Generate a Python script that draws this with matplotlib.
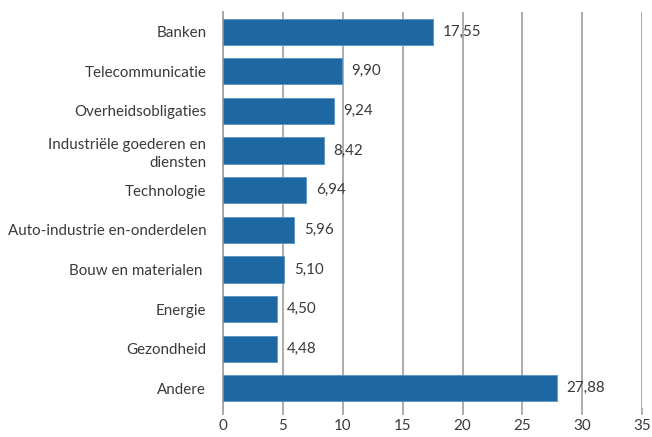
import matplotlib.pyplot as plt

# --- DATA ---
categories = ["Banken", "Telecommunicatie", "Overheidsobligaties",
              "Industriële goederen en\ndiensten", "Technologie",
              "Auto-industrie en-onderdelen", "Bouw en materialen ",
              "Energie", "Gezondheid", "Andere"]
values = [17.55, 9.90, 9.24, 8.42, 6.94, 5.96, 5.10, 4.50, 4.48, 27.88]
xticks = [0, 5, 10, 15, 20, 25, 30, 35]

bar_color = "#1d68a3"
text_color = "#3a3a3a"
grid_color = "#a6a6a6"

plt.rcParams['font.family'] = ['Lato', 'DejaVu Sans']

fig = plt.figure(figsize=(6.52, 4.37), dpi=100)
ax = fig.add_axes([0.342, 0.066, 0.643, 0.907])

pos = list(range(len(categories)))
ax.barh(pos, values, height=0.66, color=bar_color, edgecolor="#5b93c2",
        linewidth=0.6, zorder=3)

for p, v in zip(pos, values):
    ax.annotate(f"{v:.2f}".replace(".", ","), (v, p), xytext=(7, 0),
                textcoords="offset points", va="center", ha="left",
                fontsize=10.9, color=text_color)

ax.set_ylim(len(categories) - 0.5, -0.5)
ax.set_xlim(0, 35)
ax.set_xticks(xticks)
ax.set_xticklabels([str(t) for t in xticks])
ax.set_yticks(pos)
ax.set_yticklabels(categories, linespacing=1.35)

ax.xaxis.grid(True, color=grid_color, linewidth=1.3, zorder=0)
for s in ["top", "right", "bottom"]:
    ax.spines[s].set_visible(False)
ax.spines["left"].set_color(grid_color)
ax.spines["left"].set_linewidth(1.3)

ax.tick_params(axis="y", length=0, pad=12, labelsize=10.9, labelcolor=text_color)
ax.tick_params(axis="x", length=5, width=1.3, color=grid_color, pad=3,
               labelsize=10.9, labelcolor=text_color)

fig.savefig("out.png", dpi=100)
